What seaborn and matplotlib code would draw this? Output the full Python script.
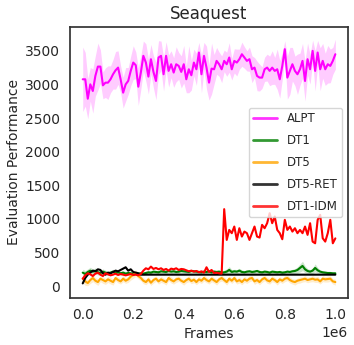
import numpy as np
import pandas as pd
import matplotlib
matplotlib.use("Agg")
import matplotlib.pyplot as plt
import seaborn as sns
from matplotlib.lines import Line2D

# evaluation every 1e4 frames, 101 checkpoints
alpt = [3077, 3077, 2788, 3002, 2903, 3127, 3266, 3266, 2987, 3027,
        3027, 3077, 3152, 3211, 3251, 3077, 2878, 3002, 3052, 3202,
        3326, 3286, 2967, 3177, 3426, 3326, 3117, 3376, 3187, 3052,
        3401, 3426, 3152, 3426, 3202, 3301, 3177, 3301, 3276, 3187,
        3301, 3077, 3226, 3137, 3326, 3226, 3475, 3152, 3426, 3251,
        3027, 3236, 3226, 3351, 3301, 3226, 3351, 3301, 3401, 3226,
        3351, 3326, 3376, 3450, 3401, 3351, 3376, 3226, 3251, 3127,
        3102, 3102, 3226, 3251, 3202, 3251, 3202, 3226, 3077, 3276,
        3525, 3102, 3202, 3301, 3202, 3152, 3226, 3351, 3052, 3376,
        3226, 3500, 3202, 3475, 3226, 3351, 3226, 3301, 3276, 3351,
        3450]
alpt_err = [480, 400, 300, 250, 330, 300, 350, 250, 200, 220,
            250, 200, 220, 280, 250, 200, 230, 250, 200, 220,
            250, 200, 280, 250, 220, 280, 260, 220, 240, 280,
            250, 220, 250, 210, 240, 200, 220, 260, 200, 240,
            280, 200, 350, 220, 200, 240, 150, 280, 200, 320,
            260, 380, 220, 200, 180, 200, 160, 180, 220, 160,
            180, 200, 150, 180, 160, 150, 180, 200, 150, 220,
            200, 160, 180, 200, 220, 250, 200, 300, 280, 200,
            125, 320, 350, 250, 220, 300, 240, 260, 300, 240,
            220, 160, 300, 180, 320, 260, 240, 280, 250, 200,
            223]

dt1 = [200, 180, 210, 230, 215, 225, 205, 195, 215, 200,
       190, 200, 215, 195, 205, 190, 200, 185, 195, 190,
       180, 195, 185, 190, 185, 195, 205, 200, 215, 210,
       205, 220, 215, 210, 225, 215, 220, 210, 215, 225,
       220, 215, 210, 225, 220, 215, 210, 205, 215, 210,
       220, 205, 215, 210, 215, 200, 205, 215, 240, 210,
       220, 215, 230, 210, 205, 215, 220, 210, 215, 225,
       210, 205, 215, 210, 200, 215, 210, 205, 210, 200,
       205, 215, 210, 220, 225, 240, 270, 300, 250, 225,
       215, 230, 270, 235, 215, 205, 200, 195, 195, 190,
       190]
dt1_err = [50, 50, 45, 50, 40, 45, 40, 35, 40, 35,
           35, 30, 35, 30, 30, 30, 30, 30, 30, 30,
           30, 30, 30, 25, 25, 25, 25, 25, 25, 25,
           25, 25, 25, 25, 25, 25, 25, 25, 25, 25,
           25, 25, 25, 25, 25, 25, 25, 25, 25, 25,
           25, 25, 25, 25, 25, 25, 30, 40, 50, 35,
           30, 30, 35, 30, 25, 25, 25, 25, 25, 25,
           25, 25, 25, 25, 25, 25, 25, 25, 25, 25,
           25, 25, 25, 30, 35, 45, 60, 70, 50, 35,
           30, 40, 60, 40, 25, 20, 20, 20, 20, 20,
           20]

dt5 = [110, 70, 45, 90, 120, 80, 60, 110, 90, 70,
       100, 80, 60, 120, 90, 70, 110, 80, 100, 140,
       170, 190, 150, 120, 80, 60, 100, 50, 90, 110,
       70, 100, 80, 60, 120, 90, 70, 100, 110, 80,
       60, 90, 110, 75, 95, 60, 100, 80, 120, 90,
       70, 110, 85, 60, 100, 120, 90, 60, 110, 80,
       120, 70, 90, 60, 100, 80, 110, 120, 70, 90,
       60, 100, 120, 85, 70, 110, 90, 60, 100, 80,
       110, 120, 90, 70, 60, 80, 90, 100, 110, 90,
       100, 110, 95, 100, 70, 110, 100, 105, 110, 70,
       60]
dt5_err = [60, 60, 40, 50, 55, 45, 50, 45, 50, 45,
           45, 50, 45, 40, 45, 40, 45, 40, 45, 50,
           55, 50, 45, 40, 45, 40, 45, 40, 45, 40,
           40, 45, 40, 45, 40, 45, 40, 45, 40, 40,
           45, 40, 45, 40, 45, 40, 45, 40, 45, 40,
           40, 45, 40, 45, 40, 45, 40, 45, 40, 40,
           45, 40, 45, 40, 45, 40, 45, 40, 45, 40,
           40, 45, 40, 45, 40, 45, 40, 45, 40, 40,
           45, 40, 45, 40, 45, 40, 45, 40, 45, 40,
           40, 45, 40, 45, 40, 45, 40, 45, 40, 40,
           45]

dt5_ret = [40, 120, 170, 200, 230, 220, 250, 240, 190, 170,
           200, 190, 210, 230, 220, 240, 260, 280, 230, 250,
           210, 200, 190] + [170] * 78

dt1_idm = [110, 160, 190, 175, 150, 185, 200, 170, 150, 190,
           175, 160, 170, 185, 165, 180, 170, 160, 170, 180,
           165, 170, 160, 180, 230, 265, 250, 290, 255, 270,
           250, 265, 240, 255, 230, 260, 250, 265, 240, 255,
           250, 235, 220, 230, 215, 225, 205, 220, 200, 280,
           210, 240, 195, 200, 190, 185, 1145, 687, 836, 787,
           886, 687, 861, 737, 811, 787, 687, 787, 886, 737,
           722, 911, 861, 936, 1085, 936, 1036, 836, 787, 697,
           986, 836, 886, 811, 861, 787, 836, 787, 886, 762,
           936, 662, 637, 986, 1060, 712, 662, 787, 986, 637,
           710]

frames = np.arange(len(alpt)) * 1e4

names = ["ALPT", "DT1", "DT5", "DT5-RET", "DT1-IDM"]
colors = ["magenta", "green", "orange", "black", "red"]
means = [alpt, dt1, dt5, dt5_ret, dt1_idm]
errs = [alpt_err, dt1_err, dt5_err, None, None]

sns.set_theme(style="white")
plt.rcParams.update({
    "font.family": ["DejaVu Sans"],
    "xtick.labelsize": 10,
    "ytick.labelsize": 10,
    "axes.labelsize": 10,
    "axes.titlesize": 12,
    "axes.edgecolor": ".2",
    "xtick.major.size": 0,
    "ytick.major.size": 0,
    "xtick.major.pad": 7,
    "ytick.major.pad": 7,
})

fig, ax = plt.subplots(figsize=(3.54, 3.45), dpi=100)
fig.subplots_adjust(left=0.198, right=0.983, bottom=0.136, top=0.922)

for name, color, m, e in zip(names, colors, means, errs):
    df = pd.DataFrame({"Frames": frames, "score": m})
    sns.lineplot(data=df, x="Frames", y="score", color=color, linewidth=1.5, ax=ax)
    if e is not None:
        lo = np.array(m) - np.array(e)
        hi = np.array(m) + np.array(e)
        ax.fill_between(frames, lo, hi, color=color, alpha=0.2, linewidth=0)

handles = [Line2D([0], [0], color=c, lw=2, alpha=0.8) for c in colors]
ax.legend(handles, names, loc="center right", fontsize=8.5, labelspacing=0.75)
ax.set_title("Seaquest")
ax.set_xlabel("Frames")
ax.set_ylabel("Evaluation Performance")
ax.yaxis.set_label_coords(-0.175, 0.5)

fig.savefig("out.png", dpi=100)
